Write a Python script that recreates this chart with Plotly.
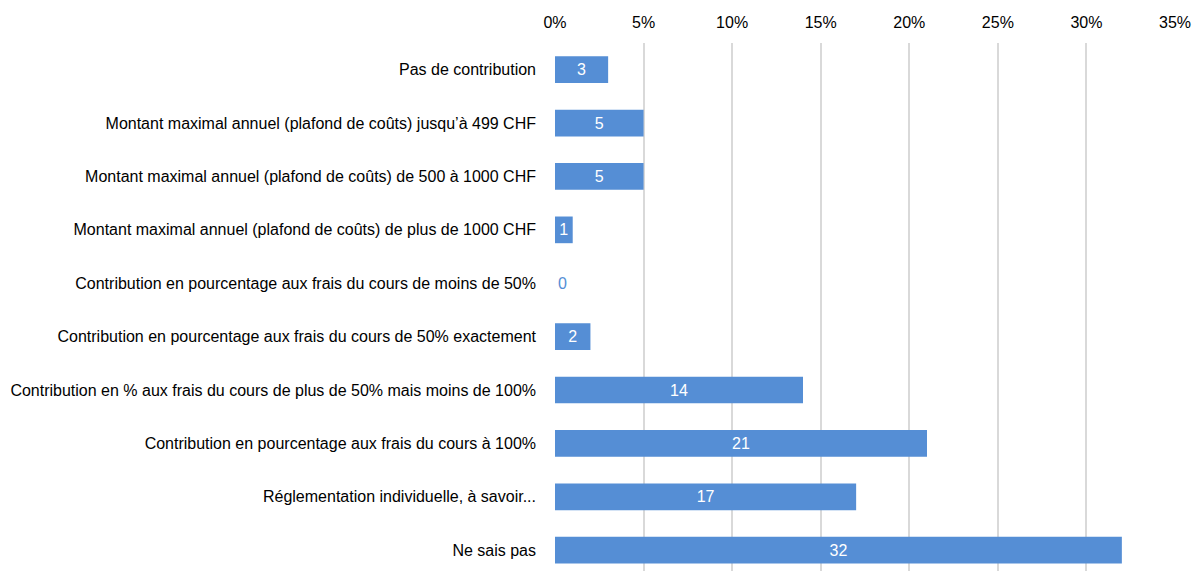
import plotly.graph_objects as go

categories = [
    "Pas de contribution",
    "Montant maximal annuel (plafond de coûts) jusqu’à 499 CHF",
    "Montant maximal annuel (plafond de coûts) de 500 à 1000 CHF",
    "Montant maximal annuel (plafond de coûts) de plus de 1000 CHF",
    "Contribution en pourcentage aux frais du cours de moins de 50%",
    "Contribution en pourcentage aux frais du cours de 50% exactement",
    "Contribution en % aux frais du cours de plus de 50% mais moins de 100%",
    "Contribution en pourcentage aux frais du cours à 100%",
    "Réglementation individuelle, à savoir...",
    "Ne sais pas",
]
values = [3, 5, 5, 1, 0, 2, 14, 21, 17, 32]
tick_vals = [0, 5, 10, 15, 20, 25, 30, 35]
tick_text = ["0%", "5%", "10%", "15%", "20%", "25%", "30%", "35%"]

bar_color = "#558ed5"
FONT = "Liberation Sans, Arial, sans-serif"

fig = go.Figure(go.Bar(
    x=values,
    y=categories,
    orientation="h",
    marker=dict(color=bar_color, line=dict(width=0)),
    width=0.5,
    text=[str(v) for v in values],
    textposition=["outside" if v == 0 else "inside" for v in values],
    insidetextanchor="middle",
    textfont=dict(color=[bar_color if v == 0 else "white" for v in values],
                  size=16, family=FONT),
    constraintext="none",
    cliponaxis=False,
))

fig.update_layout(
    width=1194, height=571,
    margin=dict(l=555, r=19, t=43, b=0),
    plot_bgcolor="white", paper_bgcolor="white",
    font=dict(family=FONT, size=16, color="#000000"),
    showlegend=False,
    bargap=0.5,
)
fig.update_xaxes(
    side="top", range=[0, 35], tickvals=tick_vals, ticktext=tick_text,
    showgrid=True, gridcolor="#d9d9d9", gridwidth=2,
    zeroline=False, showline=False, ticks="", ticklabelstandoff=11,
    tickfont=dict(size=16, color="#000000"),
)
fig.update_yaxes(
    range=[9.39, -0.5], showgrid=False, zeroline=False, showline=False,
    ticks="", ticklabelstandoff=18, tickfont=dict(size=16, color="#000000"),
)

fig.write_html("out.html", config={"displayModeBar": False},
               post_script="document.body.style.margin='0';document.body.style.overflow='hidden';")
